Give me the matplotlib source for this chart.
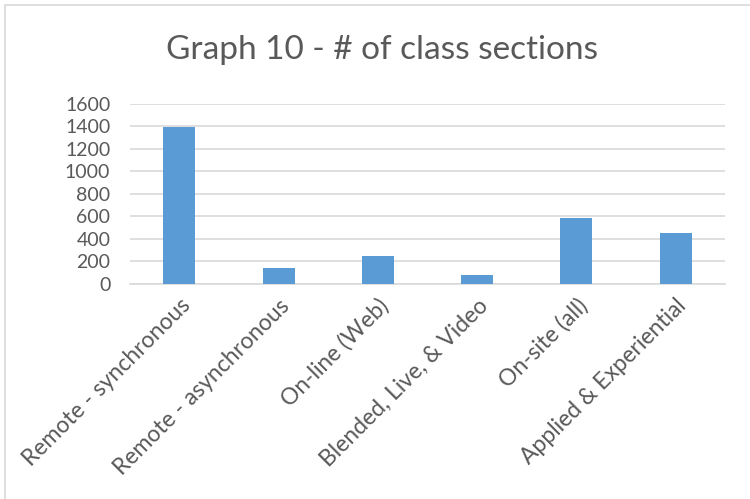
import numpy as np
import matplotlib.pyplot as plt
from matplotlib.patches import Rectangle

# categories and number of class sections
categories = ["Remote - synchronous", "Remote - asynchronous", "On-line (Web)",
              "Blended, Live, & Video", "On-site (all)", "Applied & Experiential"]
sections = [1392, 143, 252, 83, 590, 455]

yticks = [0, 200, 400, 600, 800, 1000, 1200, 1400, 1600]

text_color = "#595959"
grid_color = "#d9d9d9"
bar_color = "#5b9bd5"

plt.rcParams["font.family"] = ["Lato", "DejaVu Sans"]

fig = plt.figure(figsize=(7.5, 4.99), dpi=100)
ax = fig.add_axes([0.173, 0.431, 0.794, 0.361])

x = np.arange(len(categories))
ax.bar(x, sections, width=0.32, color=bar_color, zorder=3)

ax.set_xlim(-0.5, len(categories) - 0.5)
ax.set_ylim(0, 1600)
ax.set_yticks(yticks)
ax.set_yticklabels([str(t) for t in yticks])
ax.yaxis.grid(True, color=grid_color, linewidth=1.2, zorder=0)
ax.tick_params(axis="y", length=0, pad=14, labelsize=14, labelcolor=text_color)

ax.set_xticks(x)
ax.set_xticklabels(categories, rotation=45, ha="right", va="top",
                   rotation_mode="anchor", fontsize=16.5, color=text_color)
ax.tick_params(axis="x", length=0, pad=8)

for side in ["top", "right", "left"]:
    ax.spines[side].set_visible(False)
ax.spines["bottom"].set_color(grid_color)
ax.spines["bottom"].set_linewidth(1.2)

fig.text(0.51, 0.9, "Graph 10 - # of class sections", ha="center", va="center",
         fontsize=24, color=text_color)

# chart border
fig.patches.append(Rectangle((0.006, -0.01), 1.2, 1.0, transform=fig.transFigure,
                             fill=False, edgecolor=grid_color, linewidth=1.2))

fig.savefig("out.png", dpi=100)
